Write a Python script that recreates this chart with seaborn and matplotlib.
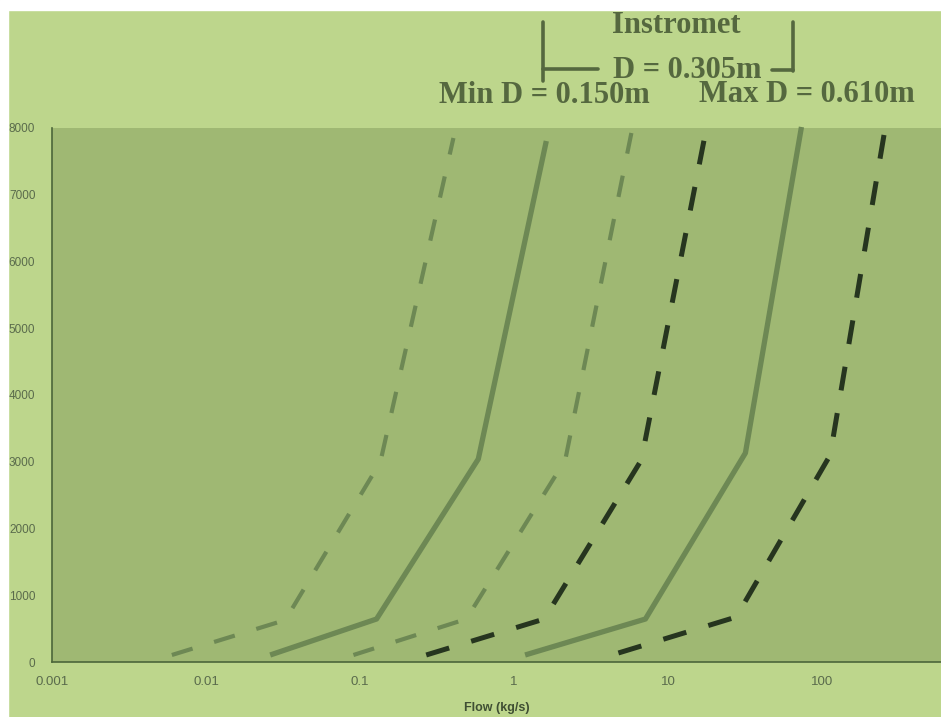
import matplotlib
matplotlib.use("Agg")
import matplotlib.pyplot as plt
from matplotlib.patches import Rectangle
from matplotlib.lines import Line2D
import numpy as np
import pandas as pd
import seaborn as sns

# Flow (kg/s) against the vertical quantity, one polyline per meter curve
series_names = ["min_a", "min_b", "mid_a", "mid_b", "max_a", "max_b"]
flow_min_a = [0.0060, 0.0327, 0.1355, 0.404]
value_min_a = [105, 629, 2996, 7850]
flow_min_b = [0.0261, 0.128, 0.586, 1.62]
value_min_b = [105, 644, 3041, 7805]
flow_mid_a = [0.0906, 0.490, 2.15, 5.78]
value_mid_a = [105, 644, 3026, 7925]
flow_mid_b = [0.269, 1.57, 6.71, 17.7]
value_mid_b = [105, 644, 3026, 7985]
flow_max_a = [1.18, 7.13, 31.8, 73.5]
value_max_a = [105, 644, 3131, 8015]
flow_max_b = [4.76, 27.7, 113.0, 257.0]
value_max_b = [135, 674, 3101, 8000]

y_ticks = [0, 1000, 2000, 3000, 4000, 5000, 6000, 7000, 8000]
x_ticks = [0.001, 0.01, 0.1, 1, 10, 100]
x_tick_labels = ["0.001", "0.01", "0.1", "1", "10", "100"]

frames = []
for name, fx, vy in zip(
    series_names,
    [flow_min_a, flow_min_b, flow_mid_a, flow_mid_b, flow_max_a, flow_max_b],
    [value_min_a, value_min_b, value_mid_a, value_mid_b, value_max_a, value_max_b],
):
    frames.append(pd.DataFrame({"series": name, "flow": fx, "value": vy,
                                "order": range(len(fx))}))
df = pd.concat(frames, ignore_index=True)

BG = "#bdd68c"
PLOT_BG = "#9fb873"
GREY = "#6d8854"
DARK = "#26351f"
AXIS = "#4c663a"
TEXT = "#55683f"

styles = {
    "min_a": dict(color=GREY, lw=3.0, ls=(0, (5.2, 5.4))),
    "min_b": dict(color=GREY, lw=3.8, ls="-"),
    "mid_a": dict(color=GREY, lw=3.0, ls=(0, (5.2, 5.4))),
    "mid_b": dict(color=DARK, lw=3.6, ls=(0, (4.8, 4.6))),
    "max_a": dict(color=GREY, lw=3.8, ls="-"),
    "max_b": dict(color=DARK, lw=3.6, ls=(0, (4.8, 4.6))),
}

sns.set_theme(style="white")
plt.rcParams["font.family"] = ["Liberation Sans", "DejaVu Sans"]

fig = plt.figure(figsize=(9.41, 7.17), dpi=100, facecolor=BG)
ax = fig.add_axes([0.0553, 0.0767, 0.9443, 0.7448])
ax.set_facecolor(PLOT_BG)

for name in series_names:
    sub = df[df["series"] == name]
    st = styles[name]
    sns.lineplot(data=sub, x="flow", y="value", ax=ax, sort=False,
                 estimator=None, color=st["color"], linewidth=st["lw"],
                 linestyle=st["ls"], legend=False, clip_on=False,
                 solid_capstyle="butt", dash_capstyle="butt")

ax.set_xscale("log")
ax.set_xlim(0.001, 10 ** 2.77)
ax.set_ylim(0, 8000)
ax.set_xticks(x_ticks)
ax.set_xticklabels(x_tick_labels)
ax.set_yticks(y_ticks)
ax.xaxis.set_minor_locator(matplotlib.ticker.NullLocator())

for side in ["top", "right"]:
    ax.spines[side].set_visible(False)
for side in ["left", "bottom"]:
    ax.spines[side].set_color(AXIS)
    ax.spines[side].set_linewidth(1.2)

ax.tick_params(axis="both", which="major", direction="out", length=5,
               width=1, color=AXIS, labelcolor="#5a6b4c")
ax.tick_params(axis="y", pad=7, labelsize=8.5)
ax.tick_params(axis="x", pad=5, labelsize=9.5)
ax.set_xlabel("Flow (kg/s)", fontsize=9, fontweight="bold", color="#3f4f33",
              labelpad=10)
ax.set_ylabel("")

# Headline labels for the pipe diameters
serif = ["Liberation Serif", "DejaVu Serif"]
head = dict(ha="center", va="baseline", fontsize=22, fontweight="bold",
            family=serif, color=TEXT)
fig.text(676 / 941, 1 - 33 / 717, "Instromet", **head)
fig.text(687 / 941, 1 - 78 / 717, "D = 0.305m", **head)
fig.text(544 / 941, 1 - 103 / 717, "Min D = 0.150m", **head)
fig.text(807 / 941, 1 - 102 / 717, "Max D = 0.610m", **head)

# Bracket spanning the Instromet range
def fig_pt(px, py):
    return px / 941, 1 - py / 717

bracket = [
    ([543, 543], [22, 81]),
    ([543, 598], [69, 69]),
    ([772, 793], [70, 70]),
    ([793, 793], [22, 71]),
]
for xs, ys in bracket:
    p0 = fig_pt(xs[0], ys[0])
    p1 = fig_pt(xs[1], ys[1])
    fig.add_artist(Line2D([p0[0], p1[0]], [p0[1], p1[1]],
                          transform=fig.transFigure, color=TEXT, lw=2.6))

# White page margin along the top and left edges
fig.add_artist(Rectangle((0, 1 - 10 / 717), 1, 10 / 717,
                         transform=fig.transFigure, color="white", zorder=10))
fig.add_artist(Rectangle((0, 0), 8 / 941, 1, transform=fig.transFigure,
                         color="white", zorder=10))

fig.savefig("out.png", dpi=100, facecolor=BG)
